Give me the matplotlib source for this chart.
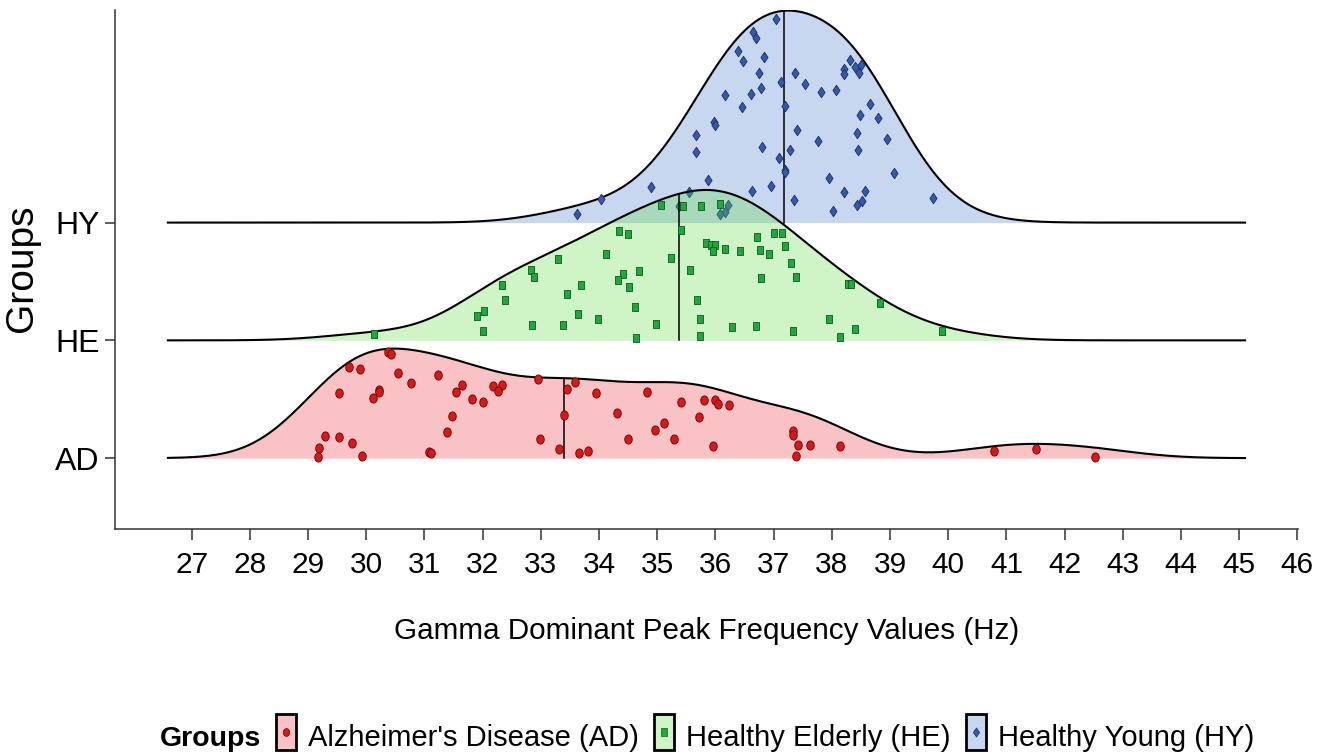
import numpy as np
import matplotlib
matplotlib.use("Agg")
import matplotlib.pyplot as plt
from matplotlib.path import Path
from matplotlib.patches import Rectangle
from matplotlib.lines import Line2D

# ---------------- data ----------------
groups = ["AD", "HE", "HY"]
legend_labels = ["Alzheimer's Disease (AD)", "Healthy Elderly (HE)", "Healthy Young (HY)"]

ad_values = [30.38, 30.43, 29.71, 29.90, 30.54, 31.24, 30.76, 29.53, 30.22, 30.21,
             30.12, 31.64, 31.55, 32.17, 32.33, 32.26, 31.81, 32.00, 32.95, 33.59,
             33.45, 33.40, 31.47, 31.38, 29.29, 29.53, 29.76, 29.19, 29.17, 29.93,
             31.07, 31.12, 32.98, 33.31, 33.65, 33.95, 34.83, 34.31, 34.50, 33.81,
             34.96, 35.12, 35.29, 35.41, 35.81, 36.00, 36.05, 36.24, 35.72, 35.95,
             37.33, 37.34, 37.41, 37.62, 38.14, 37.38, 40.79, 41.50, 42.52]
ad_jitter = [0.90, 0.88, 0.77, 0.76, 0.72, 0.71, 0.64, 0.55, 0.58, 0.56,
             0.51, 0.62, 0.56, 0.61, 0.62, 0.57, 0.50, 0.48, 0.67, 0.65,
             0.59, 0.37, 0.36, 0.22, 0.19, 0.18, 0.13, 0.09, 0.01, 0.02,
             0.05, 0.04, 0.16, 0.08, 0.04, 0.55, 0.56, 0.38, 0.16, 0.06,
             0.24, 0.30, 0.16, 0.48, 0.49, 0.49, 0.46, 0.45, 0.35, 0.10,
             0.23, 0.20, 0.11, 0.11, 0.10, 0.02, 0.06, 0.08, 0.01]

he_values = [34.35, 34.50, 34.12, 33.29, 32.83, 32.88, 34.41, 34.33, 34.69, 32.34,
             33.69, 34.52, 33.45, 32.38, 34.62, 32.02, 31.91, 33.64, 33.98, 32.85,
             33.38, 34.97, 32.00, 34.64, 30.14, 35.07, 35.45, 35.76, 36.07, 35.40,
             35.24, 35.57, 35.83, 35.92, 36.00, 35.95, 36.17, 36.43, 36.71, 37.00,
             37.14, 36.76, 36.92, 37.19, 37.29, 37.38, 36.79, 38.28, 38.33, 38.83,
             35.69, 35.73, 35.73, 36.28, 36.69, 37.33, 37.95, 38.40, 38.14, 39.90]
he_jitter = [0.93, 0.90, 0.73, 0.69, 0.60, 0.54, 0.56, 0.51, 0.59, 0.47,
             0.47, 0.45, 0.39, 0.34, 0.28, 0.25, 0.21, 0.22, 0.18, 0.13,
             0.13, 0.14, 0.08, 0.02, 0.05, 1.15, 1.14, 1.14, 1.16, 0.94,
             0.70, 0.60, 0.83, 0.81, 0.81, 0.76, 0.78, 0.76, 0.88, 0.91,
             0.91, 0.77, 0.73, 0.80, 0.66, 0.54, 0.53, 0.48, 0.48, 0.32,
             0.34, 0.18, 0.04, 0.11, 0.12, 0.08, 0.18, 0.10, 0.03, 0.08]

hy_values = [37.04, 36.64, 36.69, 36.38, 36.47, 36.83, 36.74, 37.12, 37.36, 37.54,
             37.81, 38.07, 38.31, 38.21, 38.21, 38.40, 38.50, 38.47, 36.16, 36.61,
             36.78, 36.45, 37.19, 38.66, 38.49, 38.80, 35.97, 36.00, 37.40, 35.67,
             35.67, 36.80, 37.28, 37.09, 37.76, 38.43, 38.45, 38.95, 37.19, 37.19,
             39.07, 37.95, 35.88, 34.90, 36.62, 36.95, 38.21, 38.57, 39.74, 37.35,
             38.52, 38.43, 38.02, 34.03, 33.62, 35.54, 36.21, 36.16, 36.07, 35.37]
hy_jitter = [1.73, 1.62, 1.57, 1.46, 1.37, 1.41, 1.27, 1.19, 1.27, 1.18,
             1.11, 1.13, 1.38, 1.30, 1.26, 1.32, 1.34, 1.27, 1.08, 1.09,
             1.14, 0.98, 0.99, 1.01, 0.91, 0.89, 0.85, 0.83, 0.79, 0.74,
             0.60, 0.64, 0.62, 0.55, 0.69, 0.76, 0.62, 0.71, 0.45, 0.43,
             0.42, 0.38, 0.36, 0.30, 0.27, 0.31, 0.26, 0.27, 0.21, 0.19,
             0.18, 0.15, 0.10, 0.20, 0.07, 0.26, 0.15, 0.09, 0.07, 0.14]

group_medians = [33.40, 35.37, 37.18]
x_ticks = list(range(27, 47))

# ---------------- styles ----------------
fill_colors = ["#EE3741", "#62DE48", "#487DCD"]
fill_alpha = 0.30
point_faces = ["#D7191C", "#1FA83C", "#3558A8"]
point_edges = ["#6E0000", "#0B5A1A", "#18306E"]

FONT = ["Liberation Sans", "DejaVu Sans"]


def make_marker(kind, aspect):
    if kind == "circle":
        t = np.linspace(0, 2 * np.pi, 40)
        v = np.column_stack([aspect * np.cos(t), np.sin(t)])
    elif kind == "square":
        v = np.array([[-aspect, -1], [aspect, -1], [aspect, 1], [-aspect, 1], [-aspect, -1]])
    else:
        v = np.array([[0, -1], [aspect, 0], [0, 1], [-aspect, 0], [0, -1]])
    codes = [Path.MOVETO] + [Path.LINETO] * (len(v) - 2) + [Path.CLOSEPOLY]
    return Path(v, codes)


markers = [make_marker("circle", 0.82), make_marker("square", 0.72), make_marker("diamond", 0.68)]
marker_sizes = [6.6, 6.4, 7.6]


def bw_nrd0(x):
    x = np.asarray(x)
    hi = np.std(x, ddof=1)
    q75, q25 = np.percentile(x, [75, 25])
    lo = min(hi, (q75 - q25) / 1.34)
    return 0.9 * lo * len(x) ** (-0.2)


def kde(x, grid, bw):
    x = np.asarray(x)
    z = (grid[:, None] - x[None, :]) / bw
    return np.exp(-0.5 * z ** 2).sum(axis=1) / (len(x) * bw * np.sqrt(2 * np.pi))


values = [ad_values, he_values, hy_values]
jitters = [ad_jitter, he_jitter, hy_jitter]
bw = np.mean([bw_nrd0(v) for v in values])
grid = np.linspace(26.59, 45.10, 600)
dens = [kde(v, grid, bw) for v in values]
scale = 1.8
dmax = max(d.max() for d in dens)
heights = [d / dmax * scale for d in dens]

# ---------------- figure ----------------
W, H = 1327, 753
fig = plt.figure(figsize=(W / 100, H / 100), dpi=100)
ax = fig.add_axes([114.7 / W, 1 - 529 / H, (1298 - 114.7) / W, (529 - 10) / H])

base = {0: 1, 1: 2, 2: 3}
for gi in [2, 1, 0]:
    y0 = base[gi]
    h = heights[gi]
    z = gi * -10 + 30
    ax.fill_between(grid, y0, y0 + h, color=fill_colors[gi], alpha=fill_alpha, lw=0, zorder=z)
    ax.plot(grid, y0 + h, color="black", lw=1.5, zorder=z + 1)
    med = group_medians[gi]
    ax.plot([med, med], [y0, y0 + np.interp(med, grid, h)], color="black", lw=1.1, zorder=z + 2)
    ax.plot(values[gi], y0 + np.asarray(jitters[gi]), linestyle="none", marker=markers[gi],
            ms=marker_sizes[gi], mfc=point_faces[gi], mec=point_edges[gi], mew=0.6, zorder=z + 3)

ax.set_xlim(27 + (114.7 - 191.7) / 58.2, 46.01)
ax.set_ylim(1 - 71 / 118, 3 + 213 / 118)
ax.set_xticks(x_ticks)
ax.set_xticklabels([str(t) for t in x_ticks], fontfamily=FONT, fontsize=21.5)
ax.set_yticks([1, 2, 3])
ax.set_yticklabels(groups, fontfamily=FONT, fontsize=23)
ax.tick_params(axis="x", length=8, width=1.1, pad=7.5, color="#333333")
ax.tick_params(axis="y", length=7, width=1.1, pad=4, color="#333333")
for s in ["top", "right"]:
    ax.spines[s].set_visible(False)
for s in ["left", "bottom"]:
    ax.spines[s].set_linewidth(1.1)
    ax.spines[s].set_color("#333333")

fig.text(707 / W, 1 - 639 / H, "Gamma Dominant Peak Frequency Values (Hz)", ha="center",
         va="baseline", fontfamily=FONT, fontsize=21.3)
fig.text(22 / W, 1 - 268 / H, "Groups", rotation=90, ha="center", va="center",
         fontfamily=FONT, fontsize=28)

# ---------------- legend (manual, horizontal) ----------------
renderer = fig.canvas.get_renderer()
baseline_y = 1 - 746 / H
key_w, key_h = 20, 36
key_cy = 732
title = fig.text(0, baseline_y, "Groups", fontfamily=FONT, fontsize=20.5, fontweight="bold", va="baseline")
tw = title.get_window_extent(renderer).width
labels_t = []
for lab in legend_labels:
    t = fig.text(0, baseline_y, lab, fontfamily=FONT, fontsize=21, va="baseline")
    labels_t.append((t, t.get_window_extent(renderer).width))
gap_title, gap_key_text, gap_item = 15, 12, 15
total = tw + gap_title + 2 * gap_item + 3 * (key_w + gap_key_text) + sum(w for _, w in labels_t)
x = 707 - total / 2
title.set_x(x / W)
x += tw
for i, (t, w) in enumerate(labels_t):
    x += gap_title if i == 0 else gap_item
    rect = Rectangle((x / W, 1 - (key_cy + key_h / 2) / H), key_w / W, key_h / H,
                     transform=fig.transFigure,
                     facecolor=matplotlib.colors.to_rgba(fill_colors[i], fill_alpha),
                     edgecolor="black", lw=2.0)
    fig.add_artist(rect)
    fig.add_artist(Line2D([(x + key_w / 2) / W], [1 - key_cy / H], transform=fig.transFigure,
                          linestyle="none", marker=markers[i], ms=marker_sizes[i] - 1,
                          mfc=point_faces[i], mec=point_edges[i], mew=0.5))
    x += key_w + gap_key_text
    t.set_x(x / W)
    x += w

fig.savefig("out.png", dpi=100)
